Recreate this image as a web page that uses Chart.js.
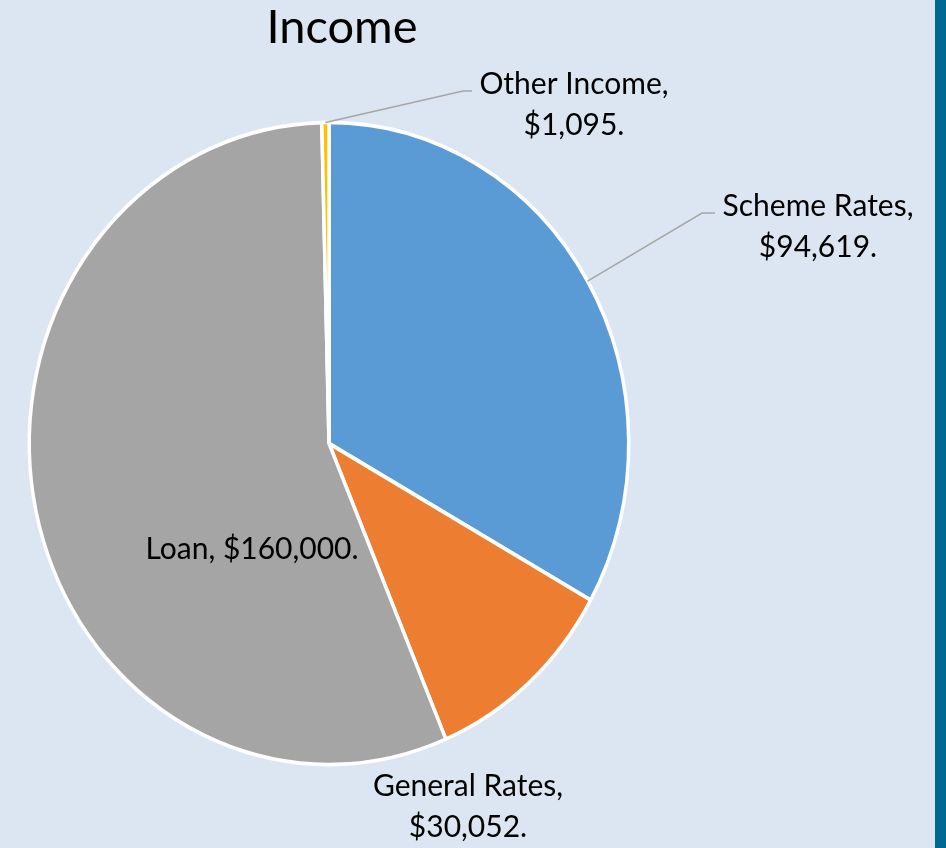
<!DOCTYPE html>
<html>
<head>
<meta charset="utf-8">
<script src="https://cdn.jsdelivr.net/npm/chart.js@4/dist/chart.umd.min.js"></script>
<style>
  html, body { margin: 0; padding: 0; overflow: hidden; background: #DCE6F2; }
  #wrap { position: relative; width: 946px; height: 848px; background: #DCE6F2; }
  #bar { position: absolute; left: 935px; top: 0; width: 11px; height: 848px; background: #006991; }
  #cv { position: absolute; left: 0; top: 0; }
</style>
</head>
<body>
<div id="wrap">
  <canvas id="cv" width="946" height="848"></canvas>
  <div id="bar"></div>
</div>
<script>
const title = 'Income';
const categories = ['Scheme Rates', 'General Rates', 'Loan', 'Other Income'];
const values = [94619, 30052, 160000, 1095];
const colors = ['#5B9BD5', '#ED7D31', '#A5A5A5', '#FFC000'];

const SY = 1.071; // vertical stretch of the pie
const FONT = 'Lato, "Liberation Sans", sans-serif';

function fmt(v) { return '$' + v.toLocaleString('en-US') + '.'; }

const labelLayout = [
  { lines: [categories[0] + ',', fmt(values[0])], x: 818, y: 216, elbow: [702, 213], end: [715, 213] },
  { lines: [categories[1] + ',', fmt(values[1])], x: 468, y: 796, elbow: null },
  { lines: [categories[2] + ', ' + fmt(values[2])], x: 252, y: 559, elbow: null },
  { lines: [categories[3] + ',', fmt(values[3])], x: 574, y: 94, elbow: [463, 91], end: [472, 91] }
];

const stretch = {
  id: 'stretch',
  beforeDatasetsDraw(chart) {
    const ctx = chart.ctx;
    const a = chart.chartArea;
    const cx = (a.left + a.right) / 2, cy = (a.top + a.bottom) / 2;
    ctx.save();
    ctx.translate(cx, cy);
    ctx.scale(1, SY);
    ctx.translate(-cx, -cy);
  },
  afterDatasetsDraw(chart) {
    chart.ctx.restore();
  }
};

const labels = {
  id: 'labels',
  afterDraw(chart) {
    const ctx = chart.ctx;
    const meta = chart.getDatasetMeta(0);
    ctx.save();
    ctx.fillStyle = '#000';
    ctx.textAlign = 'center';
    ctx.textBaseline = 'alphabetic';
    ctx.font = '47px ' + FONT;
    ctx.fillText(title, 342, 43);
    ctx.font = '30px ' + FONT;
    labelLayout.forEach((l, i) => {
      const arc = meta.data[i];
      if (l.elbow) {
        const mid = (arc.startAngle + arc.endAngle) / 2;
        const r = arc.outerRadius;
        const sx = arc.x + Math.cos(mid) * r;
        const sy = arc.y + Math.sin(mid) * r * SY;
        ctx.strokeStyle = '#A6A6A6';
        ctx.lineWidth = 1.5;
        ctx.beginPath();
        ctx.moveTo(sx, sy);
        ctx.lineTo(l.elbow[0], l.elbow[1]);
        ctx.lineTo(l.end[0], l.end[1]);
        ctx.stroke();
      }
      ctx.fillStyle = '#000';
      l.lines.forEach((t, k) => ctx.fillText(t, l.x, l.y + k * 41));
    });
    ctx.restore();
  }
};

new Chart(document.getElementById('cv'), {
  type: 'pie',
  data: {
    labels: categories,
    datasets: [{
      data: values,
      backgroundColor: colors,
      borderColor: '#FFFFFF',
      borderWidth: 3.5
    }]
  },
  options: {
    responsive: false,
    animation: false,
    rotation: 0,
    layout: { padding: { left: 27, right: 315, top: 142, bottom: 103 } },
    plugins: {
      legend: { display: false },
      tooltip: { enabled: false },
      title: { display: false }
    }
  },
  plugins: [stretch, labels]
});
</script>
</body>
</html>
